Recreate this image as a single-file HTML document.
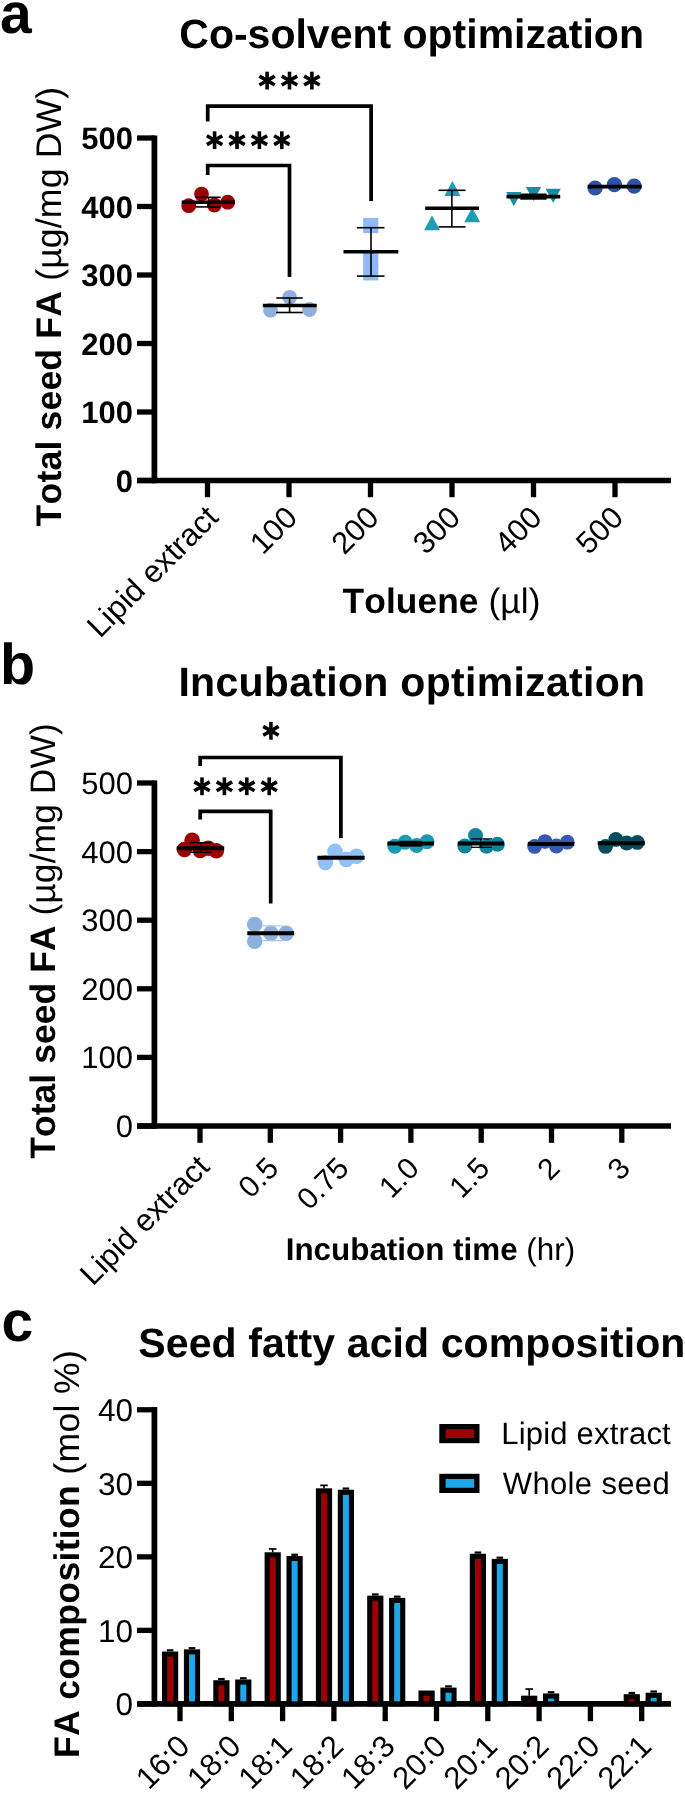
<!DOCTYPE html>
<html><head><meta charset="utf-8"><title>Figure</title>
<style>html,body{margin:0;padding:0;background:#fff;}svg{display:block;}text{font-family:'Liberation Sans', sans-serif;fill:#000;font-kerning:none;text-rendering:geometricPrecision;}svg{will-change:transform;}</style>
</head><body>
<svg width="685" height="1793" viewBox="0 0 685 1793">
<rect x="0" y="0" width="685" height="1793" fill="#fff"/>
<g id="panelA">
<text x="0" y="33" font-size="57" text-anchor="start" font-weight="bold">a</text>
<text x="179.3" y="48.2" font-size="41" text-anchor="start" font-weight="bold">Co-solvent optimization</text>
<line x1="154.4" y1="135.4" x2="154.4" y2="483.3" stroke="#000" stroke-width="5.7" stroke-linecap="butt"/>
<line x1="137" y1="480.5" x2="154.4" y2="480.5" stroke="#000" stroke-width="5.3" stroke-linecap="butt"/>
<text x="133" y="491.5" font-size="31" text-anchor="end" font-weight="bold">0</text>
<line x1="137" y1="412.0" x2="154.4" y2="412.0" stroke="#000" stroke-width="5.3" stroke-linecap="butt"/>
<text x="133" y="423.0" font-size="31" text-anchor="end" font-weight="bold">100</text>
<line x1="137" y1="343.5" x2="154.4" y2="343.5" stroke="#000" stroke-width="5.3" stroke-linecap="butt"/>
<text x="133" y="354.5" font-size="31" text-anchor="end" font-weight="bold">200</text>
<line x1="137" y1="275.0" x2="154.4" y2="275.0" stroke="#000" stroke-width="5.3" stroke-linecap="butt"/>
<text x="133" y="286.0" font-size="31" text-anchor="end" font-weight="bold">300</text>
<line x1="137" y1="206.5" x2="154.4" y2="206.5" stroke="#000" stroke-width="5.3" stroke-linecap="butt"/>
<text x="133" y="217.5" font-size="31" text-anchor="end" font-weight="bold">400</text>
<line x1="137" y1="138.0" x2="154.4" y2="138.0" stroke="#000" stroke-width="5.3" stroke-linecap="butt"/>
<text x="133" y="149.0" font-size="31" text-anchor="end" font-weight="bold">500</text>
<line x1="137" y1="480.5" x2="671" y2="480.5" stroke="#000" stroke-width="5.7" stroke-linecap="butt"/>
<line x1="207.5" y1="480.5" x2="207.5" y2="497.2" stroke="#000" stroke-width="5.3" stroke-linecap="butt"/>
<line x1="289" y1="480.5" x2="289" y2="497.2" stroke="#000" stroke-width="5.3" stroke-linecap="butt"/>
<line x1="370.5" y1="480.5" x2="370.5" y2="497.2" stroke="#000" stroke-width="5.3" stroke-linecap="butt"/>
<line x1="452" y1="480.5" x2="452" y2="497.2" stroke="#000" stroke-width="5.3" stroke-linecap="butt"/>
<line x1="533.5" y1="480.5" x2="533.5" y2="497.2" stroke="#000" stroke-width="5.3" stroke-linecap="butt"/>
<line x1="615" y1="480.5" x2="615" y2="497.2" stroke="#000" stroke-width="5.3" stroke-linecap="butt"/>
<text x="220.0" y="519" font-size="31.5" text-anchor="end" transform="rotate(-45 220.0 519)">Lipid extract</text>
<text x="299" y="519.5" font-size="30.8" text-anchor="end" transform="rotate(-45 299 519.5)">100</text>
<text x="380.5" y="519.5" font-size="30.8" text-anchor="end" transform="rotate(-45 380.5 519.5)">200</text>
<text x="462" y="519.5" font-size="30.8" text-anchor="end" transform="rotate(-45 462 519.5)">300</text>
<text x="543.5" y="519.5" font-size="30.8" text-anchor="end" transform="rotate(-45 543.5 519.5)">400</text>
<text x="625" y="519.5" font-size="30.8" text-anchor="end" transform="rotate(-45 625 519.5)">500</text>
<text x="61.5" y="526.4" font-size="35.6" letter-spacing="0.17" transform="rotate(-90 61.5 526.4)"><tspan font-weight="bold">Total seed FA</tspan> (µg/mg DW)</text>
<text x="342.6" y="613" font-size="35.3" letter-spacing="0.1"><tspan font-weight="bold">Toluene</tspan> (µl)</text>
<polyline points="207.7,121.5 207.7,106.2 371.1,106.2 371.1,201" fill="none" stroke="#000" stroke-width="3.7" stroke-linejoin="miter"/>
<polyline points="207.7,175 207.7,165.5 289.5,165.5 289.5,277" fill="none" stroke="#000" stroke-width="3.7" stroke-linejoin="miter"/>
<line x1="267.1" y1="71.7" x2="267.1" y2="89.5" stroke="#000" stroke-width="3.6" stroke-linecap="butt"/>
<line x1="259.39" y1="76.15" x2="274.81" y2="85.05" stroke="#000" stroke-width="3.6" stroke-linecap="butt"/>
<line x1="274.81" y1="76.15" x2="259.39" y2="85.05" stroke="#000" stroke-width="3.6" stroke-linecap="butt"/>
<line x1="289.5" y1="71.7" x2="289.5" y2="89.5" stroke="#000" stroke-width="3.6" stroke-linecap="butt"/>
<line x1="281.79" y1="76.15" x2="297.21" y2="85.05" stroke="#000" stroke-width="3.6" stroke-linecap="butt"/>
<line x1="297.21" y1="76.15" x2="281.79" y2="85.05" stroke="#000" stroke-width="3.6" stroke-linecap="butt"/>
<line x1="311.9" y1="71.7" x2="311.9" y2="89.5" stroke="#000" stroke-width="3.6" stroke-linecap="butt"/>
<line x1="304.19" y1="76.15" x2="319.61" y2="85.05" stroke="#000" stroke-width="3.6" stroke-linecap="butt"/>
<line x1="319.61" y1="76.15" x2="304.19" y2="85.05" stroke="#000" stroke-width="3.6" stroke-linecap="butt"/>
<line x1="214.6" y1="131.3" x2="214.6" y2="149.1" stroke="#000" stroke-width="3.6" stroke-linecap="butt"/>
<line x1="206.89" y1="135.75" x2="222.31" y2="144.65" stroke="#000" stroke-width="3.6" stroke-linecap="butt"/>
<line x1="222.31" y1="135.75" x2="206.89" y2="144.65" stroke="#000" stroke-width="3.6" stroke-linecap="butt"/>
<line x1="237.0" y1="131.3" x2="237.0" y2="149.1" stroke="#000" stroke-width="3.6" stroke-linecap="butt"/>
<line x1="229.29" y1="135.75" x2="244.71" y2="144.65" stroke="#000" stroke-width="3.6" stroke-linecap="butt"/>
<line x1="244.71" y1="135.75" x2="229.29" y2="144.65" stroke="#000" stroke-width="3.6" stroke-linecap="butt"/>
<line x1="259.4" y1="131.3" x2="259.4" y2="149.1" stroke="#000" stroke-width="3.6" stroke-linecap="butt"/>
<line x1="251.69" y1="135.75" x2="267.11" y2="144.65" stroke="#000" stroke-width="3.6" stroke-linecap="butt"/>
<line x1="267.11" y1="135.75" x2="251.69" y2="144.65" stroke="#000" stroke-width="3.6" stroke-linecap="butt"/>
<line x1="281.8" y1="131.3" x2="281.8" y2="149.1" stroke="#000" stroke-width="3.6" stroke-linecap="butt"/>
<line x1="274.09" y1="135.75" x2="289.51" y2="144.65" stroke="#000" stroke-width="3.6" stroke-linecap="butt"/>
<line x1="289.51" y1="135.75" x2="274.09" y2="144.65" stroke="#000" stroke-width="3.6" stroke-linecap="butt"/>
<circle cx="188.7" cy="205.7" r="7.4" fill="#9e0000"/>
<circle cx="201.5" cy="194.1" r="7.4" fill="#9e0000"/>
<circle cx="214.4" cy="205" r="7.4" fill="#9e0000"/>
<circle cx="227.7" cy="202.2" r="7.4" fill="#9e0000"/>
<line x1="208.5" y1="197.3" x2="208.5" y2="206.9" stroke="#000" stroke-width="1.6" stroke-linecap="butt"/>
<line x1="195.7" y1="197.3" x2="220.7" y2="197.3" stroke="#000" stroke-width="1.6" stroke-linecap="butt"/>
<line x1="195.7" y1="206.9" x2="220.7" y2="206.9" stroke="#000" stroke-width="1.6" stroke-linecap="butt"/>
<line x1="181.7" y1="202.2" x2="235" y2="202.2" stroke="#000" stroke-width="3.6" stroke-linecap="butt"/>
<circle cx="270.5" cy="310.2" r="7.4" fill="#8eb0dc"/>
<circle cx="289.6" cy="297.3" r="7.4" fill="#8eb0dc"/>
<circle cx="309.5" cy="309.5" r="7.4" fill="#8eb0dc"/>
<line x1="289.6" y1="298" x2="289.6" y2="312.5" stroke="#000" stroke-width="1.6" stroke-linecap="butt"/>
<line x1="276.3" y1="298" x2="302.7" y2="298" stroke="#000" stroke-width="1.6" stroke-linecap="butt"/>
<line x1="276.3" y1="312.5" x2="302.7" y2="312.5" stroke="#000" stroke-width="1.6" stroke-linecap="butt"/>
<line x1="262.8" y1="305.5" x2="316.7" y2="305.5" stroke="#000" stroke-width="3.6" stroke-linecap="butt"/>
<rect x="363.15" y="217.9" width="15.2" height="15.2" fill="#8ebbf7"/>
<rect x="363.15" y="251.79999999999998" width="15.2" height="15.2" fill="#8ebbf7"/>
<rect x="363.15" y="265.2" width="15.2" height="15.2" fill="#8ebbf7"/>
<line x1="371" y1="227.7" x2="371" y2="276.1" stroke="#000" stroke-width="1.6" stroke-linecap="butt"/>
<line x1="356.9" y1="227.7" x2="384.5" y2="227.7" stroke="#000" stroke-width="1.6" stroke-linecap="butt"/>
<line x1="356.9" y1="276.1" x2="384.5" y2="276.1" stroke="#000" stroke-width="1.6" stroke-linecap="butt"/>
<line x1="343.5" y1="251.8" x2="398.3" y2="251.8" stroke="#000" stroke-width="3.6" stroke-linecap="butt"/>
<polygon points="452.4,181.1 444.4,195.9 460.4,195.9" fill="#209cb7"/>
<polygon points="432,215.5 424,230.3 440,230.3" fill="#209cb7"/>
<polygon points="472.2,207.4 464.2,222.20000000000002 480.2,222.20000000000002" fill="#209cb7"/>
<line x1="451.9" y1="190.3" x2="451.9" y2="226.9" stroke="#000" stroke-width="1.6" stroke-linecap="butt"/>
<line x1="438.5" y1="190.3" x2="465.6" y2="190.3" stroke="#000" stroke-width="1.6" stroke-linecap="butt"/>
<line x1="438.5" y1="226.9" x2="465.6" y2="226.9" stroke="#000" stroke-width="1.6" stroke-linecap="butt"/>
<line x1="425.2" y1="208.3" x2="479" y2="208.3" stroke="#000" stroke-width="3.6" stroke-linecap="butt"/>
<polygon points="513.8,206.17999999999998 506.19999999999993,192.11999999999998 521.4,192.11999999999998" fill="#198ca2"/>
<polygon points="533.5,201.07999999999998 525.9,187.01999999999998 541.1,187.01999999999998" fill="#198ca2"/>
<polygon points="553.2,202.88 545.6,188.82 560.8000000000001,188.82" fill="#198ca2"/>
<rect x="520.3" y="193.5" width="26.3" height="6.2" fill="#000"/>
<line x1="506.5" y1="196.6" x2="560.2" y2="196.6" stroke="#000" stroke-width="3.6" stroke-linecap="butt"/>
<circle cx="595.1" cy="188" r="7.6" fill="#2c53a8"/>
<circle cx="614.4" cy="184.6" r="7.6" fill="#2c53a8"/>
<circle cx="634.2" cy="186.1" r="7.6" fill="#2c53a8"/>
<line x1="587.6" y1="186.6" x2="641.6" y2="186.6" stroke="#000" stroke-width="3.6" stroke-linecap="butt"/>
</g>
<g id="panelB">
<text x="0" y="684" font-size="57.5" text-anchor="start" font-weight="bold">b</text>
<text x="178.4" y="696.2" font-size="41" text-anchor="start" font-weight="bold" letter-spacing="0.3">Incubation optimization</text>
<line x1="154.4" y1="780.4" x2="154.4" y2="1128.8" stroke="#000" stroke-width="5.7" stroke-linecap="butt"/>
<line x1="137" y1="1126.0" x2="154.4" y2="1126.0" stroke="#000" stroke-width="5.3" stroke-linecap="butt"/>
<text x="133" y="1137.0" font-size="31" text-anchor="end">0</text>
<line x1="137" y1="1057.4" x2="154.4" y2="1057.4" stroke="#000" stroke-width="5.3" stroke-linecap="butt"/>
<text x="133" y="1068.4" font-size="31" text-anchor="end">100</text>
<line x1="137" y1="988.8" x2="154.4" y2="988.8" stroke="#000" stroke-width="5.3" stroke-linecap="butt"/>
<text x="133" y="999.8" font-size="31" text-anchor="end">200</text>
<line x1="137" y1="920.2" x2="154.4" y2="920.2" stroke="#000" stroke-width="5.3" stroke-linecap="butt"/>
<text x="133" y="931.2" font-size="31" text-anchor="end">300</text>
<line x1="137" y1="851.6" x2="154.4" y2="851.6" stroke="#000" stroke-width="5.3" stroke-linecap="butt"/>
<text x="133" y="862.6" font-size="31" text-anchor="end">400</text>
<line x1="137" y1="783.0" x2="154.4" y2="783.0" stroke="#000" stroke-width="5.3" stroke-linecap="butt"/>
<text x="133" y="794.0" font-size="31" text-anchor="end">500</text>
<line x1="137" y1="1126.0" x2="671" y2="1126.0" stroke="#000" stroke-width="5.7" stroke-linecap="butt"/>
<line x1="200.0" y1="1126.0" x2="200.0" y2="1142.8" stroke="#000" stroke-width="5.3" stroke-linecap="butt"/>
<line x1="270.3" y1="1126.0" x2="270.3" y2="1142.8" stroke="#000" stroke-width="5.3" stroke-linecap="butt"/>
<line x1="340.6" y1="1126.0" x2="340.6" y2="1142.8" stroke="#000" stroke-width="5.3" stroke-linecap="butt"/>
<line x1="410.9" y1="1126.0" x2="410.9" y2="1142.8" stroke="#000" stroke-width="5.3" stroke-linecap="butt"/>
<line x1="481.2" y1="1126.0" x2="481.2" y2="1142.8" stroke="#000" stroke-width="5.3" stroke-linecap="butt"/>
<line x1="551.5" y1="1126.0" x2="551.5" y2="1142.8" stroke="#000" stroke-width="5.3" stroke-linecap="butt"/>
<line x1="621.8" y1="1126.0" x2="621.8" y2="1142.8" stroke="#000" stroke-width="5.3" stroke-linecap="butt"/>
<text x="211.0" y="1168.5" font-size="31" text-anchor="end" transform="rotate(-45 211.0 1168.5)">Lipid extract</text>
<text x="280.3" y="1170" font-size="30" text-anchor="end" transform="rotate(-45 280.3 1170)">0.5</text>
<text x="350.6" y="1170" font-size="30" text-anchor="end" transform="rotate(-45 350.6 1170)">0.75</text>
<text x="420.9" y="1170" font-size="30" text-anchor="end" transform="rotate(-45 420.9 1170)">1.0</text>
<text x="491.2" y="1170" font-size="30" text-anchor="end" transform="rotate(-45 491.2 1170)">1.5</text>
<text x="561.5" y="1170" font-size="30" text-anchor="end" transform="rotate(-45 561.5 1170)">2</text>
<text x="631.8" y="1170" font-size="30" text-anchor="end" transform="rotate(-45 631.8 1170)">3</text>
<text x="55.4" y="1158.8" font-size="35.4" letter-spacing="0.1" transform="rotate(-90 55.4 1158.8)"><tspan font-weight="bold">Total seed FA</tspan> (µg/mg DW)</text>
<text x="285.7" y="1259.6" font-size="31.4"><tspan font-weight="bold">Incubation time</tspan> (hr)</text>
<polyline points="200.2,766 200.2,757.5 340.9,757.5 340.9,838" fill="none" stroke="#000" stroke-width="3.7"/>
<polyline points="200.2,819.5 200.2,811.3 270.7,811.3 270.7,903.4" fill="none" stroke="#000" stroke-width="3.7"/>
<line x1="270.9" y1="721.9" x2="270.9" y2="739.7" stroke="#000" stroke-width="3.6" stroke-linecap="butt"/>
<line x1="263.19" y1="726.35" x2="278.61" y2="735.25" stroke="#000" stroke-width="3.6" stroke-linecap="butt"/>
<line x1="278.61" y1="726.35" x2="263.19" y2="735.25" stroke="#000" stroke-width="3.6" stroke-linecap="butt"/>
<line x1="202.0" y1="777.4" x2="202.0" y2="795.2" stroke="#000" stroke-width="3.6" stroke-linecap="butt"/>
<line x1="194.29" y1="781.85" x2="209.71" y2="790.75" stroke="#000" stroke-width="3.6" stroke-linecap="butt"/>
<line x1="209.71" y1="781.85" x2="194.29" y2="790.75" stroke="#000" stroke-width="3.6" stroke-linecap="butt"/>
<line x1="224.4" y1="777.4" x2="224.4" y2="795.2" stroke="#000" stroke-width="3.6" stroke-linecap="butt"/>
<line x1="216.69" y1="781.85" x2="232.11" y2="790.75" stroke="#000" stroke-width="3.6" stroke-linecap="butt"/>
<line x1="232.11" y1="781.85" x2="216.69" y2="790.75" stroke="#000" stroke-width="3.6" stroke-linecap="butt"/>
<line x1="246.8" y1="777.4" x2="246.8" y2="795.2" stroke="#000" stroke-width="3.6" stroke-linecap="butt"/>
<line x1="239.09" y1="781.85" x2="254.51" y2="790.75" stroke="#000" stroke-width="3.6" stroke-linecap="butt"/>
<line x1="254.51" y1="781.85" x2="239.09" y2="790.75" stroke="#000" stroke-width="3.6" stroke-linecap="butt"/>
<line x1="269.2" y1="777.4" x2="269.2" y2="795.2" stroke="#000" stroke-width="3.6" stroke-linecap="butt"/>
<line x1="261.49" y1="781.85" x2="276.91" y2="790.75" stroke="#000" stroke-width="3.6" stroke-linecap="butt"/>
<line x1="276.91" y1="781.85" x2="261.49" y2="790.75" stroke="#000" stroke-width="3.6" stroke-linecap="butt"/>
<circle cx="184.5" cy="849.5" r="7.8" fill="#9e0000"/>
<circle cx="192.1" cy="840.2" r="7.8" fill="#9e0000"/>
<circle cx="200.2" cy="850.5" r="7.8" fill="#9e0000"/>
<circle cx="208.2" cy="848.2" r="7.8" fill="#9e0000"/>
<circle cx="216.3" cy="850.8" r="7.8" fill="#9e0000"/>
<line x1="200.8" y1="842.7" x2="200.8" y2="852.3" stroke="#000" stroke-width="1.3" stroke-linecap="butt"/>
<line x1="189.5" y1="842.7" x2="211.4" y2="842.7" stroke="#000" stroke-width="1.3" stroke-linecap="butt"/>
<line x1="189.5" y1="852.3" x2="211.4" y2="852.3" stroke="#000" stroke-width="1.3" stroke-linecap="butt"/>
<line x1="176.7" y1="848.2" x2="224.2" y2="848.2" stroke="#000" stroke-width="4.0" stroke-linecap="butt"/>
<circle cx="254.7" cy="924.6" r="7.8" fill="#8eb0dc"/>
<circle cx="254.7" cy="941.3" r="7.8" fill="#8eb0dc"/>
<circle cx="270.8" cy="933.3" r="7.8" fill="#8eb0dc"/>
<circle cx="286.2" cy="933.3" r="7.8" fill="#8eb0dc"/>
<g opacity="0.9">
<line x1="262.8" y1="925.9" x2="283.6" y2="925.9" stroke="#a9c6ea" stroke-width="1.3" stroke-linecap="butt"/>
<line x1="262.8" y1="940.7" x2="283.6" y2="940.7" stroke="#a9c6ea" stroke-width="1.3" stroke-linecap="butt"/>
</g>
<line x1="247.3" y1="933.3" x2="294.2" y2="933.3" stroke="#000" stroke-width="4.0" stroke-linecap="butt"/>
<circle cx="325.4" cy="862.6" r="7.8" fill="#92c1f7"/>
<circle cx="335" cy="851.4" r="7.8" fill="#92c1f7"/>
<circle cx="346.3" cy="859.4" r="7.8" fill="#92c1f7"/>
<circle cx="356.5" cy="856.2" r="7.8" fill="#92c1f7"/>
<line x1="317.4" y1="857.8" x2="364.6" y2="857.8" stroke="#000" stroke-width="4.0" stroke-linecap="butt"/>
<circle cx="394.8" cy="846.2" r="7.5" fill="#1b9ab4"/>
<circle cx="405.2" cy="842.3" r="7.5" fill="#1b9ab4"/>
<circle cx="416.6" cy="845.5" r="7.5" fill="#1b9ab4"/>
<circle cx="427" cy="841.7" r="7.5" fill="#1b9ab4"/>
<rect x="399.5" y="840.8" width="22.5" height="5.8" fill="#000"/>
<line x1="387.4" y1="843.6" x2="434" y2="843.6" stroke="#000" stroke-width="4.0" stroke-linecap="butt"/>
<circle cx="464.8" cy="846" r="7.5" fill="#11839a"/>
<circle cx="475.5" cy="835.6" r="7.5" fill="#11839a"/>
<circle cx="486.6" cy="846.2" r="7.5" fill="#11839a"/>
<circle cx="497.4" cy="844.2" r="7.5" fill="#11839a"/>
<line x1="481" y1="838.9" x2="481" y2="847.3" stroke="#000" stroke-width="1.3" stroke-linecap="butt"/>
<line x1="471" y1="838.9" x2="492" y2="838.9" stroke="#000" stroke-width="1.3" stroke-linecap="butt"/>
<line x1="471" y1="847.3" x2="492" y2="847.3" stroke="#000" stroke-width="1.3" stroke-linecap="butt"/>
<line x1="457.7" y1="843.6" x2="503.9" y2="843.6" stroke="#000" stroke-width="4.0" stroke-linecap="butt"/>
<circle cx="534.6" cy="846.4" r="7.4" fill="#3558b2"/>
<circle cx="545" cy="841.6" r="7.4" fill="#3558b2"/>
<circle cx="556.4" cy="846" r="7.4" fill="#3558b2"/>
<circle cx="567.3" cy="842.2" r="7.4" fill="#3558b2"/>
<line x1="527.8" y1="844.0" x2="574.2" y2="844.0" stroke="#000" stroke-width="4.0" stroke-linecap="butt"/>
<circle cx="605.5" cy="846.4" r="7.4" fill="#0a4b5c"/>
<circle cx="615.8" cy="839.4" r="7.4" fill="#0a4b5c"/>
<circle cx="626.6" cy="843" r="7.4" fill="#0a4b5c"/>
<circle cx="637.3" cy="842.4" r="7.4" fill="#0a4b5c"/>
<line x1="597.7" y1="843.2" x2="644.8" y2="843.2" stroke="#000" stroke-width="4.0" stroke-linecap="butt"/>
</g>
<g id="panelC">
<text x="1.5" y="1341.2" font-size="57" text-anchor="start" font-weight="bold">c</text>
<text x="138.3" y="1357.2" font-size="41" text-anchor="start" font-weight="bold" letter-spacing="0.1">Seed fatty acid composition</text>
<line x1="154.4" y1="1407.1" x2="154.4" y2="1706.7" stroke="#000" stroke-width="5.7" stroke-linecap="butt"/>
<line x1="137" y1="1703.9" x2="154.4" y2="1703.9" stroke="#000" stroke-width="5.3" stroke-linecap="butt"/>
<text x="133" y="1715.1000000000001" font-size="31.5" text-anchor="end">0</text>
<line x1="137" y1="1630.3700000000001" x2="154.4" y2="1630.3700000000001" stroke="#000" stroke-width="5.3" stroke-linecap="butt"/>
<text x="133" y="1641.5700000000002" font-size="31.5" text-anchor="end">10</text>
<line x1="137" y1="1556.8400000000001" x2="154.4" y2="1556.8400000000001" stroke="#000" stroke-width="5.3" stroke-linecap="butt"/>
<text x="133" y="1568.0400000000002" font-size="31.5" text-anchor="end">20</text>
<line x1="137" y1="1483.3100000000002" x2="154.4" y2="1483.3100000000002" stroke="#000" stroke-width="5.3" stroke-linecap="butt"/>
<text x="133" y="1494.5100000000002" font-size="31.5" text-anchor="end">30</text>
<line x1="137" y1="1409.7800000000002" x2="154.4" y2="1409.7800000000002" stroke="#000" stroke-width="5.3" stroke-linecap="butt"/>
<text x="133" y="1420.9800000000002" font-size="31.5" text-anchor="end">40</text>
<line x1="137" y1="1703.9" x2="671" y2="1703.9" stroke="#000" stroke-width="5.7" stroke-linecap="butt"/>
<line x1="180.0" y1="1703.9" x2="180.0" y2="1721.2" stroke="#000" stroke-width="5.3" stroke-linecap="butt"/>
<text x="191.4" y="1748" font-size="31" text-anchor="end" transform="rotate(-45 191.4 1748)">16:0</text>
<line x1="166.79999999999998" y1="1650.34664" x2="173.4" y2="1650.34664" stroke="#000" stroke-width="2.2" stroke-linecap="butt"/>
<rect x="164.55" y="1654.1" width="11.1" height="49.8" fill="#9e0000" stroke="#000" stroke-width="5.1"/>
<line x1="188.7" y1="1648.14074" x2="195.3" y2="1648.14074" stroke="#000" stroke-width="2.2" stroke-linecap="butt"/>
<rect x="186.45" y="1651.89" width="11.1" height="52.01" fill="#1ea7e8" stroke="#000" stroke-width="5.1"/>
<line x1="231.3" y1="1703.9" x2="231.3" y2="1721.2" stroke="#000" stroke-width="5.3" stroke-linecap="butt"/>
<text x="242.7" y="1748" font-size="31" text-anchor="end" transform="rotate(-45 242.7 1748)">18:0</text>
<line x1="218.1" y1="1679.02334" x2="224.70000000000002" y2="1679.02334" stroke="#000" stroke-width="2.2" stroke-linecap="butt"/>
<rect x="215.85" y="1682.77" width="11.1" height="21.13" fill="#9e0000" stroke="#000" stroke-width="5.1"/>
<line x1="240.0" y1="1678.2880400000001" x2="246.60000000000002" y2="1678.2880400000001" stroke="#000" stroke-width="2.2" stroke-linecap="butt"/>
<rect x="237.75" y="1682.04" width="11.1" height="21.86" fill="#1ea7e8" stroke="#000" stroke-width="5.1"/>
<line x1="282.6" y1="1703.9" x2="282.6" y2="1721.2" stroke="#000" stroke-width="5.3" stroke-linecap="butt"/>
<text x="294.0" y="1748" font-size="31" text-anchor="end" transform="rotate(-45 294.0 1748)">18:1</text>
<line x1="272.70000000000005" y1="1548.9722900000002" x2="272.70000000000005" y2="1552.28114" stroke="#000" stroke-width="1.6" stroke-linecap="butt"/>
<line x1="268.90000000000003" y1="1548.9722900000002" x2="276.50000000000006" y2="1548.9722900000002" stroke="#000" stroke-width="1.7" stroke-linecap="butt"/>
<rect x="267.15" y="1554.83" width="11.1" height="149.07" fill="#9e0000" stroke="#000" stroke-width="5.1"/>
<line x1="291.3" y1="1554.75764" x2="297.90000000000003" y2="1554.75764" stroke="#000" stroke-width="2.2" stroke-linecap="butt"/>
<rect x="289.05" y="1558.51" width="11.1" height="145.39" fill="#1ea7e8" stroke="#000" stroke-width="5.1"/>
<line x1="333.9" y1="1703.9" x2="333.9" y2="1721.2" stroke="#000" stroke-width="5.3" stroke-linecap="butt"/>
<text x="345.3" y="1748" font-size="31" text-anchor="end" transform="rotate(-45 345.3 1748)">18:2</text>
<line x1="324.0" y1="1485.36884" x2="324.0" y2="1488.31004" stroke="#000" stroke-width="1.6" stroke-linecap="butt"/>
<line x1="320.2" y1="1485.36884" x2="327.8" y2="1485.36884" stroke="#000" stroke-width="1.7" stroke-linecap="butt"/>
<rect x="318.45" y="1490.86" width="11.1" height="213.04" fill="#9e0000" stroke="#000" stroke-width="5.1"/>
<line x1="342.59999999999997" y1="1488.5806400000001" x2="349.2" y2="1488.5806400000001" stroke="#000" stroke-width="2.2" stroke-linecap="butt"/>
<rect x="340.35" y="1492.33" width="11.1" height="211.57" fill="#1ea7e8" stroke="#000" stroke-width="5.1"/>
<line x1="385.2" y1="1703.9" x2="385.2" y2="1721.2" stroke="#000" stroke-width="5.3" stroke-linecap="butt"/>
<text x="396.6" y="1748" font-size="31" text-anchor="end" transform="rotate(-45 396.6 1748)">18:3</text>
<line x1="372.0" y1="1594.4638400000001" x2="378.6" y2="1594.4638400000001" stroke="#000" stroke-width="2.2" stroke-linecap="butt"/>
<rect x="369.75" y="1598.21" width="11.1" height="105.69" fill="#9e0000" stroke="#000" stroke-width="5.1"/>
<line x1="393.9" y1="1596.66974" x2="400.5" y2="1596.66974" stroke="#000" stroke-width="2.2" stroke-linecap="butt"/>
<rect x="391.65" y="1600.42" width="11.1" height="103.48" fill="#1ea7e8" stroke="#000" stroke-width="5.1"/>
<line x1="436.5" y1="1703.9" x2="436.5" y2="1721.2" stroke="#000" stroke-width="5.3" stroke-linecap="butt"/>
<text x="447.9" y="1748" font-size="31" text-anchor="end" transform="rotate(-45 447.9 1748)">20:0</text>
<rect x="421.05" y="1693.07" width="11.1" height="10.83" fill="#9e0000" stroke="#000" stroke-width="5.1"/>
<line x1="445.2" y1="1686.37634" x2="451.8" y2="1686.37634" stroke="#000" stroke-width="2.2" stroke-linecap="butt"/>
<rect x="442.95" y="1690.13" width="11.1" height="13.77" fill="#1ea7e8" stroke="#000" stroke-width="5.1"/>
<line x1="487.8" y1="1703.9" x2="487.8" y2="1721.2" stroke="#000" stroke-width="5.3" stroke-linecap="butt"/>
<text x="499.2" y="1748" font-size="31" text-anchor="end" transform="rotate(-45 499.2 1748)">20:1</text>
<line x1="474.6" y1="1552.55174" x2="481.20000000000005" y2="1552.55174" stroke="#000" stroke-width="2.2" stroke-linecap="butt"/>
<rect x="472.35" y="1556.3" width="11.1" height="147.6" fill="#9e0000" stroke="#000" stroke-width="5.1"/>
<line x1="496.5" y1="1557.69884" x2="503.1" y2="1557.69884" stroke="#000" stroke-width="2.2" stroke-linecap="butt"/>
<rect x="494.25" y="1561.45" width="11.1" height="142.45" fill="#1ea7e8" stroke="#000" stroke-width="5.1"/>
<line x1="539.1" y1="1703.9" x2="539.1" y2="1721.2" stroke="#000" stroke-width="5.3" stroke-linecap="butt"/>
<text x="550.5" y="1748" font-size="31" text-anchor="end" transform="rotate(-45 550.5 1748)">20:2</text>
<line x1="529.2" y1="1689.0469400000002" x2="529.2" y2="1695.6646400000002" stroke="#000" stroke-width="1.6" stroke-linecap="butt"/>
<line x1="525.4000000000001" y1="1689.0469400000002" x2="533.0" y2="1689.0469400000002" stroke="#000" stroke-width="1.7" stroke-linecap="butt"/>
<rect x="523.65" y="1698.21" width="11.1" height="5.69" fill="#9e0000" stroke="#000" stroke-width="5.1"/>
<line x1="547.8000000000001" y1="1692.25874" x2="554.4" y2="1692.25874" stroke="#000" stroke-width="2.2" stroke-linecap="butt"/>
<rect x="545.55" y="1696.01" width="11.1" height="7.89" fill="#1ea7e8" stroke="#000" stroke-width="5.1"/>
<line x1="590.4" y1="1703.9" x2="590.4" y2="1721.2" stroke="#000" stroke-width="5.3" stroke-linecap="butt"/>
<text x="601.8" y="1748" font-size="31" text-anchor="end" transform="rotate(-45 601.8 1748)">22:0</text>
<line x1="641.7" y1="1703.9" x2="641.7" y2="1721.2" stroke="#000" stroke-width="5.3" stroke-linecap="butt"/>
<text x="653.1" y="1748" font-size="31" text-anchor="end" transform="rotate(-45 653.1 1748)">22:1</text>
<line x1="628.5000000000001" y1="1692.99404" x2="635.1" y2="1692.99404" stroke="#000" stroke-width="2.2" stroke-linecap="butt"/>
<rect x="626.25" y="1696.74" width="11.1" height="7.16" fill="#9e0000" stroke="#000" stroke-width="5.1"/>
<line x1="650.4000000000001" y1="1691.52344" x2="657.0" y2="1691.52344" stroke="#000" stroke-width="2.2" stroke-linecap="butt"/>
<rect x="648.15" y="1695.27" width="11.1" height="8.63" fill="#1ea7e8" stroke="#000" stroke-width="5.1"/>
<rect x="439.3" y="1424" width="40.2" height="19.2" fill="#000"/>
<rect x="445.6" y="1429.2" width="28.6" height="8.8" fill="#9e0000"/>
<rect x="439.3" y="1473.8" width="40.2" height="19.2" fill="#000"/>
<rect x="445.6" y="1479" width="28.6" height="8.8" fill="#1ea7e8"/>
<text x="501.2" y="1443.8" font-size="31" text-anchor="start" letter-spacing="0.2">Lipid extract</text>
<text x="502.8" y="1493.8" font-size="31" text-anchor="start" letter-spacing="0.35">Whole seed</text>
<text x="79.1" y="1758" font-size="35.6" letter-spacing="0.31" transform="rotate(-90 79.1 1758)"><tspan font-weight="bold">FA composition</tspan> (mol %)</text>
</g>
</svg>
</body></html>
